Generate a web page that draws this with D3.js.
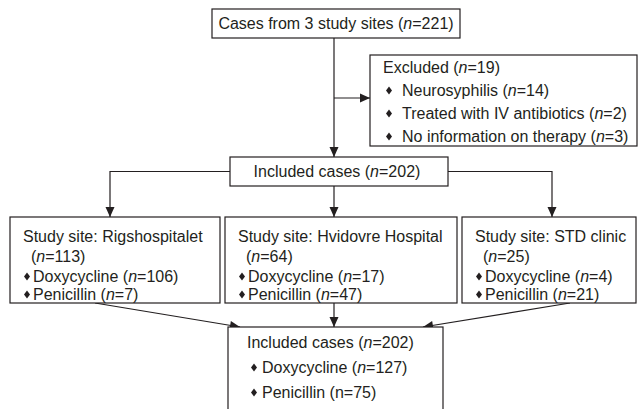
<!DOCTYPE html>
<html><head><meta charset="utf-8">
<script src="https://cdn.jsdelivr.net/npm/d3@7"></script>
<style>
html,body{margin:0;padding:0;background:#fff;}
svg text{font-family:"Liberation Sans",Arial,Helvetica,sans-serif;fill:#231f20;}
</style></head>
<body><svg id="c" width="639" height="409"></svg>
<script>
// ---- data ----
const totalCases = 221;
const studySiteCount = 3;
const excludedN = 19;
const exclusionReasons = ["Neurosyphilis", "Treated with IV antibiotics", "No information on therapy"];
const exclusionN = [14, 2, 3];
const includedN = 202;
const siteNames = ["Rigshospitalet", "Hvidovre Hospital", "STD clinic"];
const siteN = [113, 64, 25];
const siteDoxy = [106, 17, 4];
const sitePen = [7, 47, 21];
const totalDoxy = 127;
const totalPen = 75;

// ---- layout ----
const svg = d3.select("#c");
const FS = 16;
const col = "#231f20";
const defs = svg.append("defs");
defs.append("marker").attr("id","ah").attr("viewBox","0 0 10 10")
  .attr("refX",10).attr("refY",5).attr("markerWidth",11).attr("markerHeight",10)
  .attr("markerUnits","userSpaceOnUse").attr("orient","auto")
  .append("path").attr("d","M0,0.5L10,5L0,9.5Z").attr("fill",col);

function box(x,y,w,h){
  svg.append("rect").attr("x",x).attr("y",y).attr("width",w).attr("height",h)
    .attr("fill","#fff").attr("stroke",col).attr("stroke-width",1.2);
}
function arrow(pts){
  svg.append("path").attr("d",d3.line()(pts)).attr("fill","none")
    .attr("stroke",col).attr("stroke-width",1.2).attr("marker-end","url(#ah)");
}
function txt(x,y,parts,anchor){
  const t = svg.append("text").attr("x",x).attr("y",y).attr("font-size",FS)
    .attr("text-anchor",anchor||"start");
  parts.forEach(p=>{
    t.append("tspan").text(p[0]).attr("font-style",p[1]?"italic":"normal");
  });
  return t;
}
function nParts(prefix, n, italic=true){
  return [[prefix+"(",false],["n",italic],["="+n+")",false]];
}
// diamond bullet centred at (x, baseline-5.5)
function bullet(x,baseline){
  const y = baseline-5.5;
  svg.append("path").attr("d",`M${x},${y-4}L${x+3},${y}L${x},${y+4}L${x-3},${y}Z`).attr("fill",col);
}

const topB = {x:212,y:9,w:248,h:29};
const cx = 334;
const exc = {x:370,y:55,w:267,h:91};
const inc = {x:230,y:157,w:218,h:29};
const sites = [{x:10,w:210},{x:225,w:232},{x:462,w:174}];
const siteY = 217, siteH = 86;
const arrowX = [110, cx, 552];
const bot = {x:228,y:327,w:215,h:100};

arrow([[cx, topB.y+topB.h],[cx, inc.y]]);
arrow([[cx, 98],[exc.x, 98]]);
const incMid = inc.y + inc.h/2;
arrow([[inc.x, incMid],[arrowX[0], incMid],[arrowX[0], siteY]]);
arrow([[cx, inc.y+inc.h],[cx, siteY]]);
arrow([[inc.x+inc.w, incMid],[arrowX[2], incMid],[arrowX[2], siteY]]);
const botTargets = [bot.x+12, cx, bot.x+bot.w-20];
const siteStartX = [95, cx, 570];
siteStartX.forEach((sx,i)=>arrow([[sx, siteY+siteH],[botTargets[i], bot.y]]));

box(topB.x,topB.y,topB.w,topB.h);
txt(cx+2, topB.y+20, [["Cases from "+studySiteCount+" study sites (",false],["n",true],["="+totalCases+")",false]], "middle");

box(exc.x,exc.y,exc.w,exc.h);
txt(exc.x+13, exc.y+18, nParts("Excluded ", excludedN));
exclusionReasons.forEach((r,i)=>{
  const y = exc.y+41+i*23;
  bullet(exc.x+19, y);
  txt(exc.x+32, y, nParts(r+" ", exclusionN[i]));
});

box(inc.x,inc.y,inc.w,inc.h);
txt(inc.x+inc.w/2-2, inc.y+20, nParts("Included cases ", includedN), "middle");

sites.forEach((s,i)=>{
  box(s.x, siteY, s.w, siteH);
  const lx = s.x+13;
  txt(lx, siteY+25, [["Study site: "+siteNames[i],false]]);
  txt(lx+8, siteY+45, nParts("", siteN[i]));
  bullet(lx+4, siteY+65);
  txt(lx+10, siteY+65, nParts("Doxycycline ", siteDoxy[i]));
  bullet(lx+4, siteY+83);
  txt(lx+10, siteY+83, nParts("Penicillin ", sitePen[i]));
});

box(bot.x,bot.y,bot.w,bot.h);
txt(bot.x+19, bot.y+21, nParts("Included cases ", includedN));
bullet(bot.x+26, bot.y+46);
txt(bot.x+34, bot.y+46, nParts("Doxycycline ", totalDoxy));
bullet(bot.x+26, bot.y+71);
txt(bot.x+34, bot.y+71, nParts("Penicillin ", totalPen, false));
</script></body></html>
